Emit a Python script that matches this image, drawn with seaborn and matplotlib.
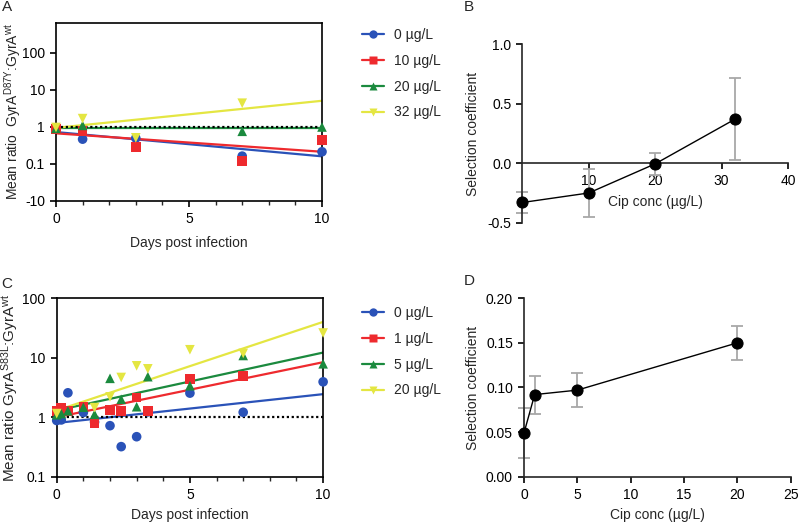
import numpy as np
import pandas as pd
import matplotlib
matplotlib.use("Agg")
import matplotlib.pyplot as plt
from matplotlib.lines import Line2D
from matplotlib.ticker import MultipleLocator, NullLocator
import seaborn as sns

# ---- data ----
conc_a = ["0 µg/L", "10 µg/L", "20 µg/L", "32 µg/L"]
days_a = [0, 1, 3, 7, 10]
ratio_a_0 = [0.85, 0.46, 0.49, 0.16, 0.21]
ratio_a_10 = [0.85, 0.75, 0.28, 0.12, 0.44]
ratio_a_20 = [0.90, 1.08, np.nan, 0.75, 0.98]
ratio_a_32 = [0.95, 1.65, 0.50, 4.3, np.nan]
fit_a_start = [0.715, 0.66, 0.93, 0.93]
fit_a_end = [0.158, 0.21, 0.93, 5.0]

conc_c = ["0 µg/L", "1 µg/L", "5 µg/L", "20 µg/L"]
days_c = [0, 0.17, 0.42, 1, 1.42, 2, 2.42, 3, 3.42, 5, 7, 10]
ratio_c_0 = [0.88, 0.90, 2.57, 1.20, 0.83, 0.72, 0.32, 0.47, 1.23, 2.54, 1.21, 3.93]
ratio_c_1 = [1.28, 1.42, 1.28, 1.47, 0.79, 1.33, 1.26, 2.15, 1.28, 4.4, 4.97, np.nan]
ratio_c_5 = [1.10, 1.15, 1.28, 1.47, 1.12, 4.5, 2.0, 1.5, 4.8, 3.38, 10.9, 7.9]
ratio_c_20 = [1.15, np.nan, np.nan, np.nan, 1.45, 2.2, 4.65, 7.3, 6.5, 13.6, 11.8, 26.0]
fit_c_start = [0.80, 1.0, 1.3, 1.3]
fit_c_end = [2.44, 8.4, 12.2, 40.0]

cip_b = [0, 10, 20, 32]
sel_b = [-0.33, -0.25, -0.005, 0.37]
err_b = [0.09, 0.20, 0.095, 0.345]

cip_d = [0, 1, 5, 20]
sel_d = [0.049, 0.092, 0.097, 0.150]
err_d = [0.0285, 0.0213, 0.019, 0.019]

colors = ["#2a52b8", "#ee2a2e", "#1b8a3e", "#e4e642"]
markers = ["o", "s", "^", "v"]

sns.set_theme(style="ticks")
plt.rcParams["font.family"] = ["Liberation Sans", "DejaVu Sans"]
plt.rcParams["mathtext.fontset"] = "custom"
plt.rcParams["mathtext.rm"] = "Liberation Sans"
plt.rcParams["mathtext.it"] = "Liberation Sans:italic"
plt.rcParams["axes.linewidth"] = 1.2
plt.rcParams["xtick.major.width"] = 1.2
plt.rcParams["ytick.major.width"] = 1.2
plt.rcParams["xtick.minor.width"] = 1.0
plt.rcParams["xtick.major.size"] = 4.5
plt.rcParams["ytick.major.size"] = 4.5
plt.rcParams["xtick.minor.size"] = 3
FS = 10

fig = plt.figure(figsize=(8, 5.25), dpi=100)
ax_a = fig.add_axes([0.070, 0.6177, 0.3325, 0.3385])
ax_c = fig.add_axes([0.0709, 0.092, 0.333, 0.340])
ax_b = fig.add_axes([0.653, 0.5758, 0.332, 0.3398])
ax_d = fig.add_axes([0.655, 0.092, 0.3334, 0.340])


def place_label(axis, x, y):
    axis.label.set_va("center")
    axis.label.set_ha("center")
    axis.set_label_coords(x, y)


def time_panel(ax, days, series, fit_start, fit_end, labels, ylabel, yfs, ylim, yticks, yticklabels):
    rows = []
    for lab, vals in zip(labels, series):
        for d, v in zip(days, vals):
            rows.append({"day": d, "ratio": v, "conc": lab})
    df = pd.DataFrame(rows).dropna()
    fits = pd.DataFrame({
        "day": [0, 10] * len(labels),
        "ratio": [v for s, e in zip(fit_start, fit_end) for v in (s, e)],
        "conc": [lab for lab in labels for _ in range(2)],
    })
    ax.set_yscale("log")
    sns.lineplot(data=fits, x="day", y="ratio", hue="conc", palette=colors,
                 hue_order=labels, linewidth=1.6, legend=False, ax=ax, zorder=2)
    ax.axhline(1, xmin=0, xmax=1, color="black", linestyle=(0, (1, 1.2)), linewidth=1.6, zorder=5)
    # draw points so that the first group ends up on top
    for i in reversed(range(len(labels))):
        sub = df[df["conc"] == labels[i]]
        sns.scatterplot(data=sub, x="day", y="ratio", color=colors[i], marker=markers[i],
                        s=48, edgecolor="none", legend=False, ax=ax, zorder=6 + i * 0.01,
                        clip_on=False)
    ax.set_xlim(0, 10)
    ax.set_ylim(*ylim)
    ax.set_xticks([0, 5, 10])
    ax.xaxis.set_minor_locator(MultipleLocator(1))
    ax.set_yticks(yticks)
    ax.set_yticklabels(yticklabels)
    ax.yaxis.set_minor_locator(NullLocator())
    ax.tick_params(labelsize=FS, colors="black")
    ax.set_xlabel("Days post infection", fontsize=FS)
    ax.set_ylabel(ylabel, fontsize=yfs)
    for sp in ax.spines.values():
        sp.set_visible(True)
        sp.set_color("black")


time_panel(ax_a, days_a, [ratio_a_0, ratio_a_10, ratio_a_20, ratio_a_32], fit_a_start, fit_a_end,
           conc_a, r"Mean ratio  GyrA$^{\mathrm{D87Y}}$:GyrA$^{\mathrm{wt}}$", 10,
           (0.01, 10 ** 2.8), [0.01, 0.1, 1, 10, 100], ["-10", "0.1", "1", "10", "100"])
time_panel(ax_c, days_c, [ratio_c_0, ratio_c_1, ratio_c_5, ratio_c_20], fit_c_start, fit_c_end,
           conc_c, r"Mean ratio GyrA$^{\mathrm{S83L}}$:GyrA$^{\mathrm{wt}}$", 11,
           (0.1, 100), [0.1, 1, 10, 100], ["0.1", "1", "10", "100"])
place_label(ax_a.yaxis, -0.162, 0.5)
place_label(ax_a.xaxis, 0.5, -0.238)
place_label(ax_c.yaxis, -0.173, 0.5)
place_label(ax_c.xaxis, 0.5, -0.215)


def sel_panel(ax, cip, sel, err):
    df = pd.DataFrame({"cip": cip, "sel": sel})
    ax.errorbar(cip, sel, yerr=err, fmt="none", ecolor="#a8a8a8", elinewidth=1.3,
                capsize=4, capthick=1.3, zorder=2, clip_on=False)
    sns.lineplot(data=df, x="cip", y="sel", color="black", linewidth=1.0, marker="o",
                 markersize=8, markeredgecolor="black", ax=ax, zorder=3, clip_on=False)
    sns.despine(ax=ax)
    ax.tick_params(labelsize=FS, colors="black")
    ax.set_ylabel("Selection coefficient", fontsize=FS)


sel_panel(ax_b, cip_b, sel_b, err_b)
ax_b.set_xlim(0, 40)
ax_b.set_ylim(-0.5, 1.0)
ax_b.set_xticks([10, 20, 30, 40])
ax_b.set_yticks([-0.5, 0.0, 0.5, 1.0])
ax_b.set_yticklabels(["-0.5", "0.0", "0.5", "1.0"])
ax_b.spines["bottom"].set_position(("data", 0))
ax_b.set_xlabel("")
ax_b.text(0.5, 0.118, "Cip conc (µg/L)", transform=ax_b.transAxes, ha="center", va="center", fontsize=FS)
place_label(ax_b.yaxis, -0.186, 0.5)

sel_panel(ax_d, cip_d, sel_d, err_d)
ax_d.set_xlim(0, 25)
ax_d.set_ylim(0, 0.2)
ax_d.set_xticks([0, 5, 10, 15, 20, 25])
ax_d.set_yticks([0.0, 0.05, 0.10, 0.15, 0.20])
ax_d.set_yticklabels(["0.00", "0.05", "0.10", "0.15", "0.20"])
ax_d.set_xlabel("Cip conc (µg/L)", fontsize=FS)
place_label(ax_d.yaxis, -0.192, 0.5)
place_label(ax_d.xaxis, 0.5, -0.215)

# legends
for labels, ytop in ((conc_a, 0.9467), (conc_c, 0.417)):
    handles = [Line2D([0], [0], color=c, marker=m, markersize=6, linewidth=1.6, markeredgecolor="none")
               for c, m in zip(colors, markers)]
    fig.legend(handles, labels, loc="upper left", bbox_to_anchor=(0.4525, ytop), frameon=False,
               fontsize=FS, handlelength=1.6, handletextpad=0.7, labelspacing=0.85, borderpad=0,
               borderaxespad=0)

for letter, x, y in (("A", 7, 7), ("B", 469, 7), ("C", 7, 284), ("D", 469, 281)):
    fig.text(x / 800, 1 - y / 525, letter, fontsize=11, ha="center", va="center")

fig.savefig("out.png", dpi=100)
